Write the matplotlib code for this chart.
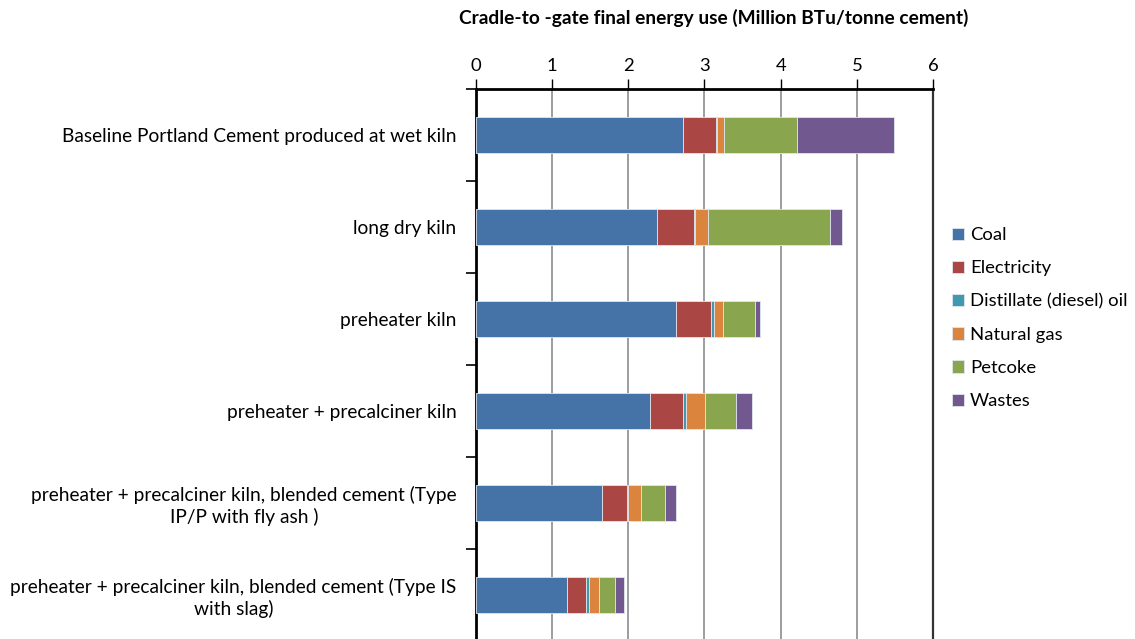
import matplotlib
matplotlib.use("Agg")
import matplotlib.pyplot as plt
import numpy as np

plt.rcParams['font.family'] = ['Lato', 'DejaVu Sans']

kilns = [
    "Baseline Portland Cement produced at wet kiln",
    "long dry kiln",
    "preheater kiln",
    "preheater + precalciner kiln",
    "preheater + precalciner kiln, blended cement (Type\nIP/P with fly ash )",
    "preheater + precalciner kiln, blended cement (Type IS\nwith slag)",
]

# energy use by fuel, Million BTu per tonne of cement
coal        = [2.72, 2.38, 2.63, 2.28, 1.65, 1.19]
electricity = [0.43, 0.48, 0.45, 0.44, 0.33, 0.26]
distillate  = [0.02, 0.02, 0.04, 0.04, 0.02, 0.03]
natural_gas = [0.08, 0.17, 0.12, 0.25, 0.17, 0.13]
petcoke     = [0.97, 1.60, 0.42, 0.41, 0.31, 0.22]
wastes      = [1.27, 0.15, 0.07, 0.21, 0.15, 0.11]

fuels = ["Coal", "Electricity", "Distillate (diesel) oil", "Natural gas", "Petcoke", "Wastes"]
colors = ["#4572A7", "#AA4643", "#4198AF", "#DB843D", "#89A54E", "#71588F"]
series = [coal, electricity, distillate, natural_gas, petcoke, wastes]

fs = 13.8

fig = plt.figure(figsize=(11.35, 6.39), dpi=100)
ax = fig.add_axes([0.4194, -0.0031, 0.4026, 0.8638])

y = np.arange(len(kilns))
left = np.zeros(len(kilns))
handles = []
for vals, name, c in zip(series, fuels, colors):
    b = ax.barh(y, vals, left=left, height=0.4, color=c, edgecolor="#dfe6ee",
                linewidth=0.6, label=name, zorder=3)
    handles.append(b)
    left += np.array(vals)

ax.set_ylim(len(kilns) - 0.5, -0.5)
ax.set_xlim(0, 6)
ax.set_xticks(range(7))
ax.xaxis.tick_top()
ax.tick_params(axis="x", direction="out", length=7, width=1, pad=4,
               labelsize=13.3, colors="black")
ax.grid(axis="x", color="#8c8c8c", linewidth=1.2, zorder=0)

# category ticks sit between the bars
ax.set_yticks(np.arange(len(kilns) + 1) - 0.5, minor=False)
ax.set_yticklabels([])
ax.tick_params(axis="y", which="major", direction="out", length=7, width=1.2)
ax.set_yticks(y, minor=True)
ax.set_yticklabels(kilns, minor=True, fontsize=fs, ha="right",
                   multialignment="center")
ax.tick_params(axis="y", which="minor", length=0, pad=14)

for s in ["left", "top"]:
    ax.spines[s].set_linewidth(2)
    ax.spines[s].set_color("black")
ax.spines["right"].set_linewidth(1.6)
ax.spines["right"].set_color("#333333")
ax.spines["bottom"].set_visible(False)

fig.text(0.629, 0.972, "Cradle-to -gate final energy use (Million BTu/tonne cement)",
         ha="center", va="center", fontsize=fs, fontweight="bold")

fig.legend(handles=handles, labels=fuels, loc="upper left",
           bbox_to_anchor=(0.832, 0.656), frameon=False, fontsize=13.3,
           handlelength=0.65, handleheight=0.65, handletextpad=0.35,
           labelspacing=0.93, borderaxespad=0)

fig.savefig("out.png", dpi=100)
